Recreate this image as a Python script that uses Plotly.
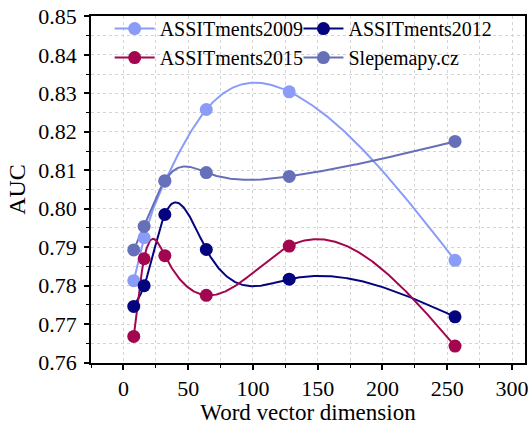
import numpy as np
import plotly.graph_objects as go

dims = [8, 16, 32, 64, 128, 256]
auc_2009 = [0.7813, 0.7925, 0.8071, 0.8258, 0.8304, 0.7866]
auc_2012 = [0.7746, 0.7800, 0.7985, 0.7894, 0.7817, 0.7719]
auc_2015 = [0.7668, 0.7870, 0.7878, 0.7775, 0.7903, 0.7643]
auc_slep = [0.7893, 0.7954, 0.8073, 0.8094, 0.8084, 0.8175]

names = ["ASSITments2009", "ASSITments2012", "ASSITments2015", "Slepemapy.cz"]
series = [auc_2009, auc_2012, auc_2015, auc_slep]
colors = ["#8a9cf7", "#04047e", "#a3064f", "#6670b8"]
legend_ids = ["legend", "legend2", "legend", "legend2"]

x_ticks = [0, 50, 100, 150, 200, 250, 300]
y_ticks = [0.76, 0.77, 0.78, 0.79, 0.80, 0.81, 0.82, 0.83, 0.84, 0.85]


def natural_spline(x, y, n=400):
    x = np.asarray(x, float)
    y = np.asarray(y, float)
    k = len(x)
    h = np.diff(x)
    A = np.zeros((k, k))
    b = np.zeros(k)
    A[0, 0] = 1
    A[-1, -1] = 1
    for i in range(1, k - 1):
        A[i, i - 1] = h[i - 1]
        A[i, i] = 2 * (h[i - 1] + h[i])
        A[i, i + 1] = h[i]
        b[i] = 3 * ((y[i + 1] - y[i]) / h[i] - (y[i] - y[i - 1]) / h[i - 1])
    c = np.linalg.solve(A, b)
    xs = np.linspace(x[0], x[-1], n)
    ys = np.empty_like(xs)
    for j, xv in enumerate(xs):
        i = min(np.searchsorted(x, xv, side="right") - 1, k - 2)
        bi = (y[i + 1] - y[i]) / h[i] - h[i] * (2 * c[i] + c[i + 1]) / 3
        di = (c[i + 1] - c[i]) / (3 * h[i])
        t = xv - x[i]
        ys[j] = y[i] + bi * t + c[i] * t ** 2 + di * t ** 3
    return xs, ys


fig = go.Figure()
for name, vals, col in zip(names, series, colors):
    xs, ys = natural_spline(dims, vals)
    fig.add_trace(go.Scatter(x=xs, y=ys, mode="lines", line=dict(color=col, width=2),
                             showlegend=False, hoverinfo="skip"))
for name, vals, col in zip(names, series, colors):
    fig.add_trace(go.Scatter(x=dims, y=vals, mode="markers",
                             marker=dict(color=col, size=13), showlegend=False, name=name))
for name, col, lg in zip(names, colors, legend_ids):
    fig.add_trace(go.Scatter(x=[None], y=[None], mode="lines+markers", name=name, legend=lg,
                             line=dict(color=col, width=2), marker=dict(color=col, size=13)))

font = "Liberation Serif"
leg_common = dict(yanchor="top", xanchor="left", bgcolor="rgba(0,0,0,0)",
                  font=dict(size=20, family=font), traceorder="normal", itemwidth=40)
fig.update_layout(
    width=532, height=425,
    margin=dict(l=91, r=4, t=10, b=62),
    plot_bgcolor="white", paper_bgcolor="white",
    font=dict(family=font, size=20, color="black"),
    legend=dict(x=0.043, y=1.02, **leg_common),
    legend2=dict(x=0.478, y=1.02, **leg_common),
)
fig.update_xaxes(
    range=[-25, 310], tickmode="array", tickvals=x_ticks,
    showline=True, linecolor="black", linewidth=1.5, mirror=True,
    ticks="outside", ticklen=5, tickwidth=1.5, tickcolor="black",
    showgrid=False, zeroline=False, ticklabeloverflow="allow",
    minor=dict(dtick=25, tick0=0, ticks="outside", ticklen=3, tickwidth=1.2, tickcolor="black",
               showgrid=True, gridcolor="#d4d4d4", griddash="dot", gridwidth=1),
    title=dict(text="Word vector dimension", standoff=2, font=dict(size=23, family=font)),
    tickfont=dict(size=22, family=font),
)
fig.update_yaxes(
    range=[0.7599, 0.8501], tickmode="array", tickvals=y_ticks,
    tickformat=".2f",
    showline=True, linecolor="black", linewidth=1.5, mirror=True,
    ticks="outside", ticklen=5, tickwidth=1.5, tickcolor="black",
    showgrid=False, zeroline=False, ticklabelstandoff=3, ticklabeloverflow="allow",
    minor=dict(dtick=0.005, tick0=0.76, ticks="outside", ticklen=3, tickwidth=1.2, tickcolor="black",
               showgrid=True, gridcolor="#d4d4d4", griddash="dot", gridwidth=1),
    title=dict(text="AUC", standoff=6, font=dict(size=24, family=font)),
    tickfont=dict(size=22, family=font),
)
fig.write_html("out.html")
